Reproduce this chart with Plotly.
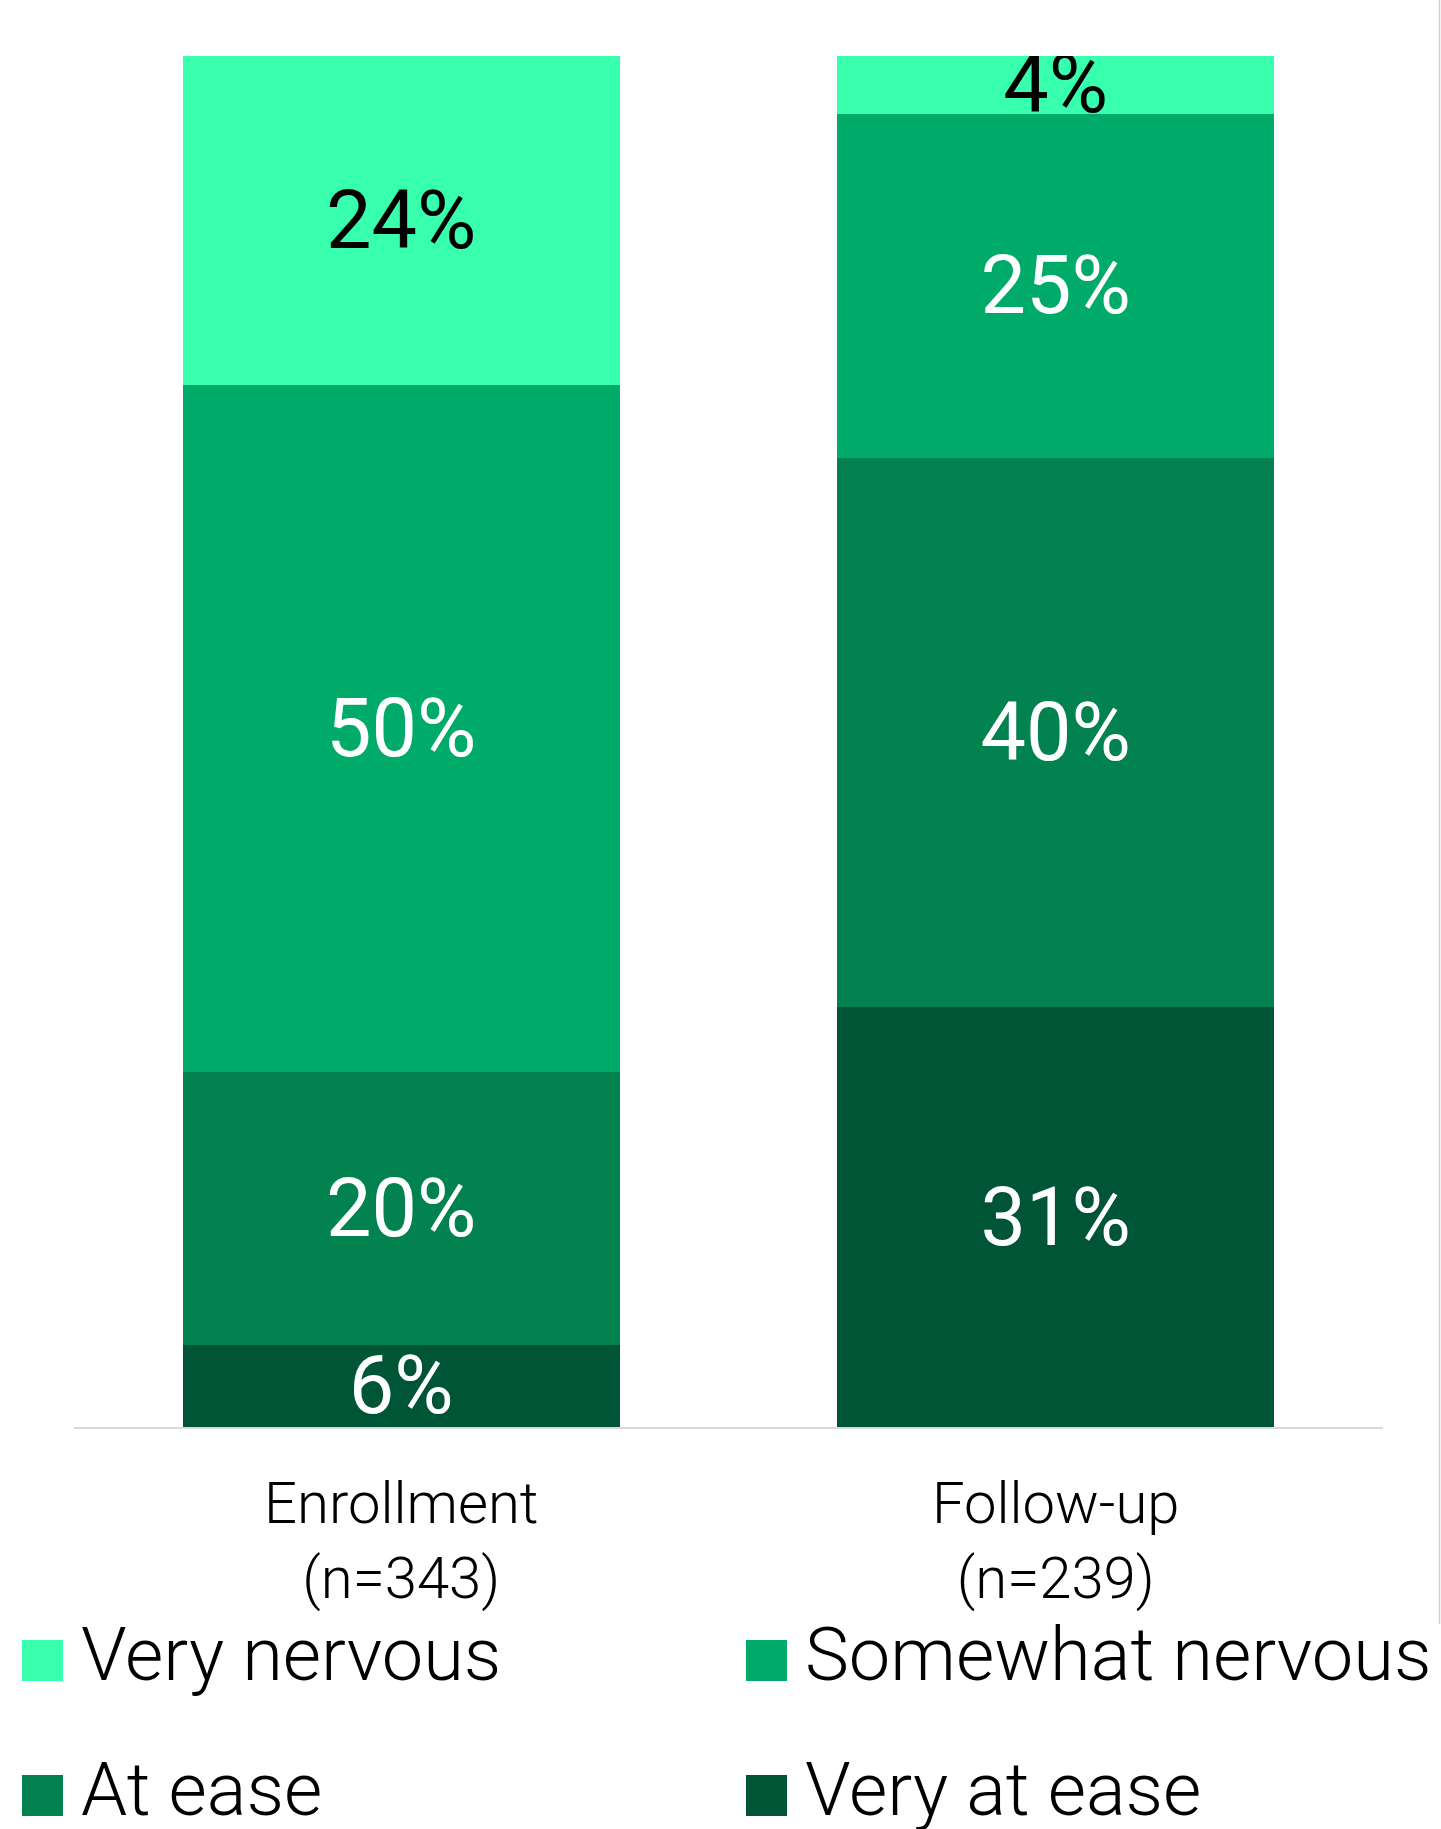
import plotly.graph_objects as go

# ---- data ----
categories = ["Enrollment<br>(n=343)", "Follow-up<br>(n=239)"]
series_names = ["Very at ease", "At ease", "Somewhat nervous", "Very nervous"]
very_at_ease = [6.0, 30.6]
at_ease = [19.9, 40.1]
somewhat_nervous = [50.1, 25.1]
very_nervous = [24.0, 4.2]

# ---- styles ----
colors = {"Very at ease": "#005537", "At ease": "#01824F",
          "Somewhat nervous": "#00AB69", "Very nervous": "#38FFAD"}
label_colors = {"Very at ease": "white", "At ease": "white",
                "Somewhat nervous": "white", "Very nervous": "black"}
legend_order = ["Very nervous", "Somewhat nervous", "At ease", "Very at ease"]

W, H = 1441, 1829
ML, MR, MT, MB = 74, 58, 56, 402
PW, PH = W - ML - MR, H - MT - MB

def px_x(x):
    return (x - ML) / PW

def px_y(y):
    return (H - MB - y) / PH

values = {"Very at ease": very_at_ease, "At ease": at_ease,
          "Somewhat nervous": somewhat_nervous, "Very nervous": very_nervous}

fig = go.Figure()
for name in series_names:
    fig.add_trace(go.Bar(
        name=name, x=categories, y=values[name],
        marker=dict(color=colors[name], line=dict(width=0)),
        texttemplate="%{y:.0f}%", textposition="inside",
        insidetextanchor="middle", textangle=0, constraintext="none",
        textfont=dict(family="Roboto", size=81, color=label_colors[name]),
        showlegend=False, hoverinfo="skip",
    ))

# manual legend (large swatches)
legend_pos = [(22, 1640), (746, 1640), (22, 1775), (746, 1775)]
sw = 41
for name, (lx, ty) in zip(legend_order, legend_pos):
    fig.add_shape(type="rect", xref="paper", yref="paper",
                  x0=px_x(lx), x1=px_x(lx + sw), y0=px_y(ty + sw), y1=px_y(ty),
                  fillcolor=colors[name], line=dict(width=0))
    fig.add_annotation(xref="paper", yref="paper", x=px_x(lx + 57), y=px_y(ty + sw / 2 - 6),
                       xanchor="left", yanchor="middle", showarrow=False,
                       text=name, font=dict(family="Roboto", size=74, color="black", weight=300))

# right border line artifact
fig.add_shape(type="line", xref="paper", yref="paper",
              x0=px_x(1439.5), x1=px_x(1439.5), y0=px_y(0), y1=px_y(1624),
              line=dict(color="#cfcfcf", width=1.5))

fig.update_layout(
    width=W, height=H, barmode="stack", bargap=0.333,
    margin=dict(l=ML, r=MR, t=MT, b=MB),
    plot_bgcolor="white", paper_bgcolor="white",
    font=dict(family="Roboto"),
    xaxis=dict(showline=True, linecolor="#d9d9d9", linewidth=2, ticks="",
               tickfont=dict(family="Roboto", size=58, color="black", weight=300),
               showgrid=False, zeroline=False, ticklabelstandoff=24),
    yaxis=dict(range=[0, 100], visible=False, showgrid=False, zeroline=False),
)

fig.write_html("out.html")
